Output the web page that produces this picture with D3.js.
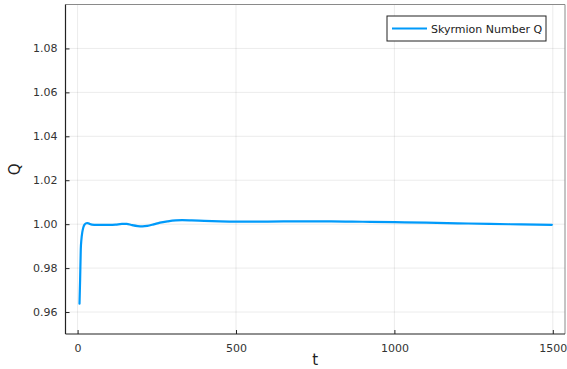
<!DOCTYPE html>
<html>
<head>
<meta charset="utf-8">
<script src="https://cdn.jsdelivr.net/npm/d3@7"></script>
<style>
  html, body { margin: 0; padding: 0; background: #fff; }
  svg { display: block; font-family: "DejaVu Sans", sans-serif; }
</style>
</head>
<body>
<svg id="chart" width="567" height="369"></svg>
<script>
// Time samples and the topological charge Q of the skyrmion
const tValues = [6, 8, 10, 12, 15, 18, 22, 27, 32, 38, 45, 60, 80, 100, 120, 140, 155, 170, 190, 205,
  220, 240, 260, 285, 310, 330, 360, 400, 450, 500, 600, 700, 800, 900, 1000, 1100, 1200, 1300, 1400, 1497];
const qValues = [0.9638, 0.9750, 0.9885, 0.9930, 0.9965, 0.9985, 0.9998, 1.0004, 1.0005, 1.0001,
  0.9998, 0.9997, 0.9997, 0.9997, 0.9998, 1.0001, 1.0001, 0.9996, 0.9991, 0.9990,
  0.9992, 0.9999, 1.0007, 1.0013, 1.0017, 1.0018, 1.0017, 1.0015, 1.0013, 1.0012,
  1.0012, 1.0013, 1.0013, 1.0011, 1.0009, 1.0007, 1.0004, 1.0001, 0.9999, 0.9997];
const xTicks = [0, 500, 1000, 1500];
const yTicks = [0.96, 0.98, 1.00, 1.02, 1.04, 1.06, 1.08];
const seriesName = "Skyrmion Number Q";

(function draw() {
  const svg = d3.select("#chart");
  const pl = 65.5, pr = 565, pt = 4.5, pb = 334;

  const x = d3.scaleLinear().domain([-38.2, 1538.5]).range([pl, pr]);
  const y = d3.scaleLinear().domain([0.95, 1.1]).range([pb, pt]);

  // grid
  const grid = svg.append("g").attr("stroke", "#000").attr("stroke-opacity", 0.08).attr("stroke-width", 1);
  grid.selectAll(".gx").data(xTicks).join("line")
    .attr("x1", d => x(d)).attr("x2", d => x(d)).attr("y1", pt).attr("y2", pb);
  grid.selectAll(".gy").data(yTicks).join("line")
    .attr("x1", pl).attr("x2", pr).attr("y1", d => y(d)).attr("y2", d => y(d));

  // frame: light top/right edges
  svg.append("line").attr("x1", pl).attr("x2", pr).attr("y1", pt).attr("y2", pt)
    .attr("stroke", "#8a8a8a").attr("stroke-width", 1);
  svg.append("line").attr("x1", pr).attr("x2", pr).attr("y1", pt).attr("y2", pb)
    .attr("stroke", "#8a8a8a").attr("stroke-width", 1);

  // axes with inward ticks
  const xAxis = d3.axisBottom(x).tickValues(xTicks).tickFormat(d3.format("d"))
    .tickSizeInner(-4).tickSizeOuter(0).tickPadding(10);
  const yAxis = d3.axisLeft(y).tickValues(yTicks).tickFormat(d3.format(".2f"))
    .tickSizeInner(-4).tickSizeOuter(0).tickPadding(8);

  const gx = svg.append("g").attr("transform", `translate(0,${pb})`).call(xAxis);
  const gy = svg.append("g").attr("transform", `translate(${pl},0)`).call(yAxis);
  [gx, gy].forEach(g => {
    g.select(".domain").attr("stroke", "#222").attr("stroke-width", 1.2);
    g.selectAll(".tick line").attr("stroke", "#222").attr("stroke-width", 1);
    g.selectAll(".tick text").attr("fill", "#333").attr("font-size", 11)
      .attr("font-family", "DejaVu Sans, sans-serif");
  });
  gx.select(".domain").attr("d", `M${pl},0H${pr}`);
  gy.select(".domain").attr("d", `M0,${pt}V${pb}`);

  // axis titles
  svg.append("text").attr("x", (pl + pr) / 2).attr("y", 365)
    .attr("text-anchor", "middle").attr("font-size", 15).attr("fill", "#222").text("t");
  svg.append("text").attr("transform", `translate(20,${(pt + pb) / 2}) rotate(-90)`)
    .attr("text-anchor", "middle").attr("font-size", 15).attr("fill", "#222").text("Q");

  // series
  const pts = tValues.map((t, i) => [t, qValues[i]]);
  svg.append("path").datum(pts)
    .attr("fill", "none").attr("stroke", "#009AFA").attr("stroke-width", 2.2)
    .attr("stroke-linejoin", "round").attr("stroke-linecap", "round")
    .attr("d", d3.line().x(d => x(d[0])).y(d => y(d[1])).curve(d3.curveMonotoneX));

  // legend
  const lg = svg.append("g");
  lg.append("rect").attr("x", 387).attr("y", 16).attr("width", 159).attr("height", 25)
    .attr("fill", "#fff").attr("stroke", "#222").attr("stroke-width", 1);
  lg.append("line").attr("x1", 392).attr("x2", 427).attr("y1", 28.5).attr("y2", 28.5)
    .attr("stroke", "#009AFA").attr("stroke-width", 2.2);
  lg.append("text").attr("x", 431).attr("y", 32.5).attr("font-size", 11).attr("fill", "#222")
    .text(seriesName);
})();
</script>
</body>
</html>
